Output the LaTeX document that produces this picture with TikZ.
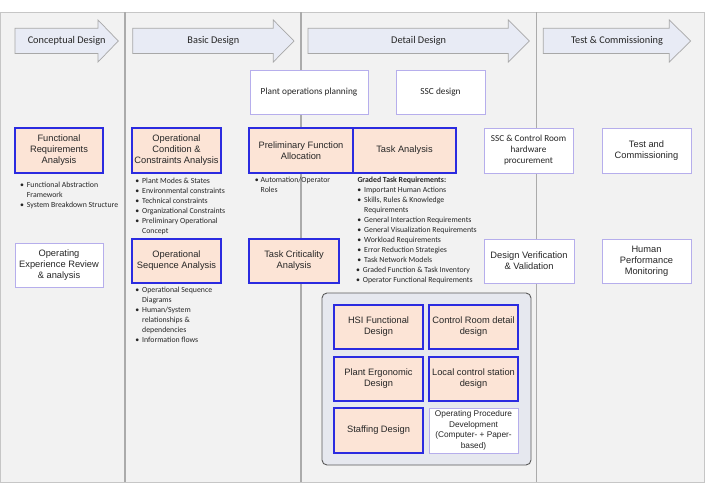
\documentclass[tikz,border=0pt]{standalone}
\usepackage{fontspec}
\setmainfont{Liberation Sans}
\newfontfamily\calib{Carlito}
\definecolor{bgc}{HTML}{F2F2F2}
\definecolor{framec}{HTML}{C6C6C6}
\definecolor{divc}{HTML}{ABABAB}
\definecolor{arrf}{HTML}{E8EBF5}
\definecolor{arrd}{HTML}{A8A8A8}
\definecolor{peachf}{HTML}{FCE4D6}
\definecolor{blueb}{HTML}{2B2BE0}
\definecolor{lightb}{HTML}{B6AEEC}
\definecolor{contf}{HTML}{E6E8EF}
\definecolor{contd}{HTML}{5A5A5A}
\definecolor{txt}{HTML}{262626}
\newcommand\bul{\leavevmode\llap{•\hspace{3pt}}}
\newcommand\phasearrow[5]{%
  \draw[arrowst] (#1,28.3) -- (#2,28.3) -- (#2,20) -- (#3,41) -- (#2,62) -- (#2,53.5) -- (#1,53.5) -- cycle;
  \node[arrowlbl] (#5) at ({(#1+#3)/2},41) {#4};}
\begin{document}
\begin{tikzpicture}[x=1pt,y=-1pt,
  arrowst/.style={draw=arrd, fill=arrf, line width=0.7pt, line join=miter},
  arrowlbl/.style={inner sep=0pt, text=txt, font=\calib\fontsize{10.3}{12}\selectfont},
  peach/.style={draw=blueb, fill=peachf, line width=1.8pt, align=center, inner sep=1pt, text=txt,
     font=\fontsize{9.3}{11}\selectfont},
  plain/.style={draw=lightb, fill=white, line width=0.8pt, align=center, inner sep=1pt, text=txt,
     font=\fontsize{9.3}{11}\selectfont},
  plaincal/.style={plain, font=\calib\fontsize{9.2}{11}\selectfont},
  sz/.style 2 args={minimum width=#1, minimum height=#2},
  blist/.style={anchor=north west, inner sep=0pt, align=left, text=txt,
     font=\calib\fontsize{7.8}{10}\selectfont},
  divider/.style={draw=divc, line width=1.3pt}
]
\useasboundingbox (0,0) rectangle (707,488);
% frame
\draw[draw=framec, fill=bgc, line width=0.8pt] (0.5,12) rectangle (704,482);
% column dividers
\coordinate (d1t) at (125,12); \coordinate (d1b) at (125,482);
\coordinate (d2t) at (301,12); \coordinate (d2b) at (301,482);
\coordinate (d3t) at (536.7,12); \coordinate (d3b) at (536.7,482);
\draw[divider] (d1t) -- (d1b);
\draw[divider] (d2t) -- (d2b);
\draw[divider] (d3t) -- (d3b);
% phase arrows
\phasearrow{15}{98}{118.3}{Conceptual Design}{ph1}
\phasearrow{132.7}{273.3}{294}{Basic Design}{ph2}
\phasearrow{308}{508.3}{529.3}{Detail Design}{ph3}
\phasearrow{543.3}{669.3}{690.7}{Test \& Commissioning}{ph4}
% top boxes
\node[plaincal, sz={118}{44}, font=\calib\fontsize{9.3}{11}\selectfont] (pop) at (309,92) {Plant operations planning};
\node[plaincal, sz={89}{44}, font=\calib\fontsize{9.3}{11}\selectfont] (ssc) at (440.5,92) {SSC design};
% row 1
\node[peach, sz={88}{45}] (fra) at (59,150.5) {Functional\\Requirements\\Analysis};
\node[peach, sz={89}{45}] (occa) at (176.5,150.5) {Operational\\Condition \&\\Constraints Analysis};
\node[peach, sz={104}{45}] (pfa) at (301,150.5) {Preliminary Function\\Allocation};
\node[peach, sz={103}{45}] (ta) at (404.5,150.5) {Task Analysis};
\node[plaincal, sz={89}{45}] (sscp) at (528.5,150.5) {SSC \& Control Room\\hardware\\procurement};
\node[plain, sz={89}{45}] (tac) at (646.5,150.5) {Test and\\Commissioning};
% row 2
\node[plain, sz={88}{44}] (oer) at (59,265) {Operating\\Experience Review\\\& analysis};
\node[peach, sz={89}{44}] (osa) at (176.5,261) {Operational\\Sequence Analysis};
\node[peach, sz={90}{44}] (tca) at (294,261) {Task Criticality\\Analysis};
\node[plain, sz={90}{44}] (dvv) at (529,261) {Design Verification\\\& Validation};
\node[plain, sz={89}{44}] (hpm) at (646.5,261) {Human\\Performance\\Monitoring};
% bullet lists
\node[blist] (lfra) at (26.7,180.3) {\strut\bul Functional Abstraction\\\strut Framework\\\strut\bul System Breakdown Structure};
\node[blist] (locca) at (142,176.5) {\strut\bul Plant Modes \& States\\\strut\bul Environmental constraints\\\strut\bul Technical constraints\\\strut\bul Organizational Constraints\\\strut\bul Preliminary Operational\\\strut Concept};
\node[blist] (losa) at (142,284.8) {\strut\bul Operational Sequence\\\strut Diagrams\\\strut\bul Human/System\\\strut relationships \&\\\strut dependencies\\\strut\bul Information flows};
\node[blist] (lpfa) at (260.5,175) {\strut\leavevmode\llap{•\hspace{2pt}}Automation/Operator\\\strut Roles};
\node[blist] (ltah) at (357.3,175.5) {\strut\textbf{Graded Task Requirements:}};
\node[blist] (lta) at (364,185.5) {\strut\bul Important Human Actions\\\strut\bul Skills, Rules \& Knowledge\\\strut Requirements\\\strut\bul General Interaction Requirements\\\strut\bul General Visualization Requirements\\\strut\bul Workload Requirements\\\strut\bul Error Reduction Strategies\\\strut\bul Task Network Models\\\strut\kern-1.3pt\bul Graded Function \& Task Inventory\\\strut\kern-1.3pt\bul Operator Functional Requirements};
% detail design container
\node[draw=contd, fill=contf, line width=0.9pt, rounded corners=5pt, minimum width=209, minimum height=172, inner sep=0pt] (cont) at (426.5,379) {};
\node[peach, sz={89}{44}] (hsi) at (378.5,327) {HSI Functional\\Design};
\node[peach, sz={89}{44}] (crd) at (473.5,327) {Control Room detail\\design};
\node[peach, sz={89}{44}] (ped) at (378.5,379) {Plant Ergonomic\\Design};
\node[peach, sz={89}{44}] (lcs) at (473.5,379) {Local control station\\design};
\node[peach, sz={89}{45}] (stf) at (378.5,430.5) {Staffing Design};
\node[plain, sz={89}{45}, font=\fontsize{8.3}{10.5}\selectfont] (opd) at (473.5,430.5) {Operating Procedure\\Development\\(Computer- + Paper-\\based)};
\end{tikzpicture}
\end{document}
